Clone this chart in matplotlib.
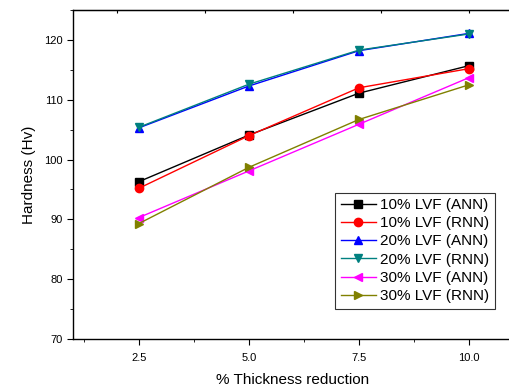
import matplotlib
matplotlib.use("Agg")
from matplotlib import pyplot as plt
from matplotlib.ticker import MultipleLocator

plt.rcParams['font.family'] = ['Liberation Sans', 'DejaVu Sans']

thickness = [2.5, 5.0, 7.5, 10.0]
lvf10_ann = [96.3, 104.1, 111.1, 115.7]
lvf10_rnn = [95.2, 104.0, 112.0, 115.2]
lvf20_ann = [105.3, 112.3, 118.2, 121.1]
lvf20_rnn = [105.4, 112.6, 118.3, 121.0]
lvf30_ann = [90.3, 98.1, 105.9, 113.7]
lvf30_rnn = [89.3, 98.7, 106.7, 112.5]

labels = ['10% LVF (ANN)', '10% LVF (RNN)', '20% LVF (ANN)',
          '20% LVF (RNN)', '30% LVF (ANN)', '30% LVF (RNN)']
series = [lvf10_ann, lvf10_rnn, lvf20_ann, lvf20_rnn, lvf30_ann, lvf30_rnn]
colors = ['black', 'red', 'blue', '#008080', 'magenta', '#808000']
markers = ['s', 'o', '^', 'v', '<', '>']

fig = plt.figure(figsize=(5.1, 3.86), dpi=100)
ax = fig.add_axes([0.143, 0.122, 0.863, 0.852])

for vals, lab, c, m in zip(series, labels, colors, markers):
    ax.plot(thickness, vals, color=c, marker=m, markersize=6, linewidth=1, label=lab)

ax.set_xlim(1.0, 11.0)
ax.set_ylim(70, 125)
ax.set_xticks(thickness)
ax.set_xticklabels(['2.5', '5.0', '7.5', '10.0'])
ax.xaxis.set_minor_locator(MultipleLocator(1.25))
ax.yaxis.set_major_locator(MultipleLocator(10))
ax.yaxis.set_minor_locator(MultipleLocator(5))
ax.tick_params(axis='both', which='major', labelsize=8, length=4, direction='out')
ax.tick_params(axis='both', which='minor', length=2.5, direction='out')
ax.tick_params(axis='x', which='major', pad=6)
ax.secondary_xaxis('top').tick_params(axis='x', which='major', direction='in',
                                          length=2, labeltop=False)
for spine in ax.spines.values():
    spine.set_linewidth(1.0)

ax.set_xlabel('% Thickness reduction', fontsize=11, labelpad=7)
ax.set_ylabel('Hardness (Hv)', fontsize=11, labelpad=6)

leg = ax.legend(loc='upper left', bbox_to_anchor=(0.596, 0.445), fontsize=11,
                frameon=True, fancybox=False, edgecolor='black',
                handlelength=2.3, borderpad=0.35, labelspacing=0.28,
                handletextpad=0.3, borderaxespad=0)
leg.get_frame().set_linewidth(0.8)

plt.savefig('out.png', dpi=100)
